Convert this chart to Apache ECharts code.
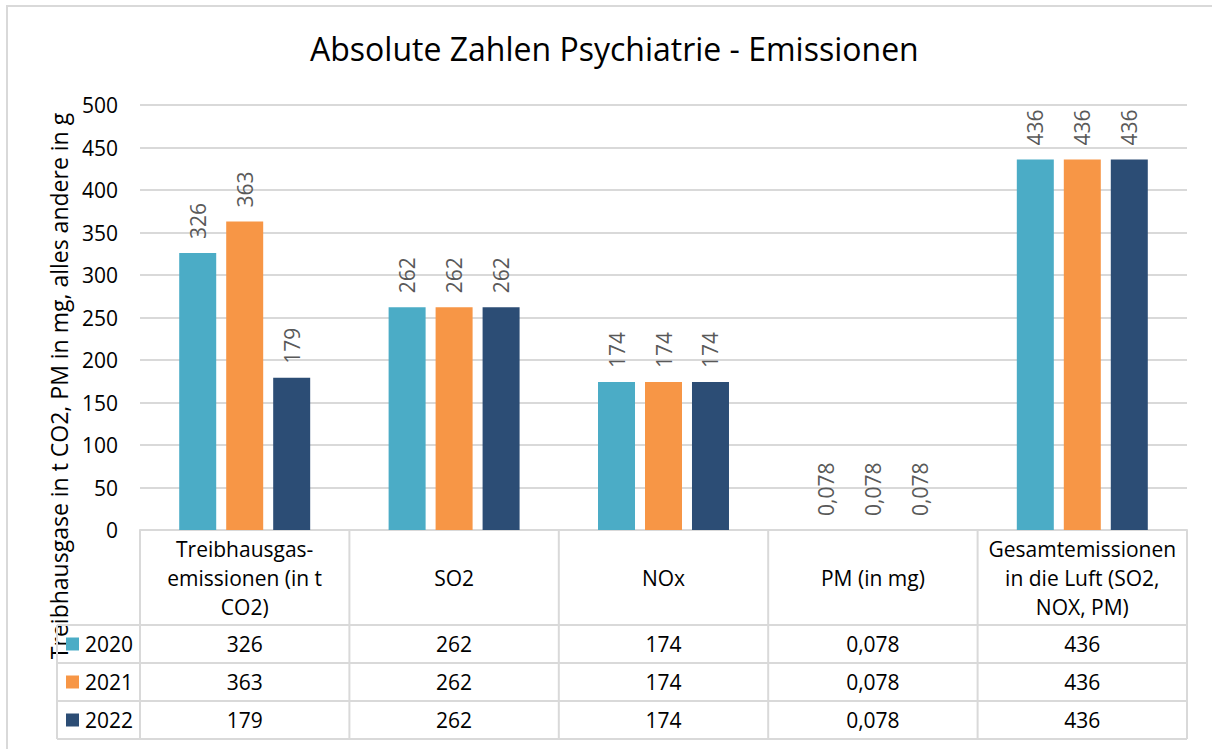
<!DOCTYPE html>
<html>
<head>
<meta charset="utf-8">
<script src="https://cdn.jsdelivr.net/npm/echarts@6/dist/echarts.min.js"></script>
<style>
html,body{margin:0;padding:0;background:#fff;}
#chart{width:1212px;height:749px;}
</style>
</head>
<body>
<div id="chart"></div>
<script>
var categories = ['Treibhausgas-\nemissionen (in t\nCO2)', 'SO2', 'NOx', 'PM (in mg)', 'Gesamtemissionen\nin die Luft (SO2,\nNOX, PM)'];
var years = ['2020', '2021', '2022'];
var values2020 = [326, 262, 174, 0.078, 436];
var values2021 = [363, 262, 174, 0.078, 436];
var values2022 = [179, 262, 174, 0.078, 436];
var yMin = 0, yMax = 500, yStep = 50;
var colors = ['#4BACC6', '#F79646', '#2C4D75'];
var fontFam = "'Open Sans', sans-serif";

function fmt(v){ return String(v).replace('.', ','); }

// layout
var gLeft = 140, gRight = 1187, gTop = 105, gBottom = 530;
var rowY = [625, 663, 701, 739];
var legendLeft = 57;
var lineColor = '#d9d9d9';

var mychart = echarts.init(document.getElementById('chart'), null, {renderer: 'svg'});

function makeSeries(name, data, idx){
	return {
		name: name,
		type: 'bar',
		data: data,
		barWidth: 37,
		barGap: '27%',
		itemStyle: {color: colors[idx]},
		label: {
			show: true,
			position: 'top',
			rotate: 90,
			align: 'left',
			verticalAlign: 'middle',
			distance: 14,
			color: '#595959',
			fontSize: 21,
			fontFamily: fontFam,
			formatter: function(p){ return fmt(p.value); }
		}
	};
}

var option = {
	animation: false,
	backgroundColor: '#fff',
	title: {
		text: 'Absolute Zahlen Psychiatrie - Emissionen',
		left: 305,
		top: 27,
		textStyle: {fontSize: 32, fontWeight: 'normal', color: '#000', fontFamily: fontFam}
	},
	grid: {left: gLeft, right: 1212 - gRight, top: gTop, bottom: 749 - gBottom, containLabel: false},
	xAxis: {
		type: 'category',
		data: categories,
		axisLine: {show: true, lineStyle: {color: lineColor, width: 2}},
		axisTick: {show: false},
		axisLabel: {
			interval: 0,
			verticalAlign: 'middle',
			margin: 48,
			lineHeight: 29,
			fontSize: 21,
			color: '#000',
			fontFamily: fontFam
		}
	},
	yAxis: {
		type: 'value',
		min: yMin,
		max: yMax,
		interval: yStep,
		axisLine: {show: false},
		axisTick: {show: false},
		splitLine: {lineStyle: {color: lineColor, width: 2}},
		axisLabel: {fontSize: 21, color: '#000', fontFamily: fontFam, margin: 22}
	},
	series: [
		makeSeries(years[0], values2020, 0),
		makeSeries(years[1], values2021, 1),
		makeSeries(years[2], values2022, 2)
	]
};
mychart.setOption(option);

// data table below the axis
var graphics = [];
graphics.push({type: 'rect', shape: {x: 7, y: 6, width: 1300, height: 800}, style: {fill: 'none', stroke: lineColor, lineWidth: 2}, z: -1});
graphics.push({
	type: 'text', x: 59, y: 386, rotation: Math.PI / 2,
	style: {text: 'Treibhausgase in t CO2, PM in mg, alles andere in g', fontSize: 23, fontFamily: fontFam, fill: '#000', align: 'center', verticalAlign: 'middle'}
});
var bounds = [];
for (var i = 0; i <= categories.length; i++) bounds.push(gLeft + (gRight - gLeft) * i / categories.length);
bounds.forEach(function(x){
	graphics.push({type: 'line', shape: {x1: x, y1: gBottom, x2: x, y2: rowY[3]}, style: {stroke: lineColor, lineWidth: 2}});
});
graphics.push({type: 'line', shape: {x1: legendLeft, y1: rowY[0], x2: legendLeft, y2: rowY[3]}, style: {stroke: lineColor, lineWidth: 2}});
rowY.forEach(function(y){
	graphics.push({type: 'line', shape: {x1: legendLeft, y1: y, x2: gRight, y2: y}, style: {stroke: lineColor, lineWidth: 2}});
});
var allValues = [values2020, values2021, values2022];
years.forEach(function(yr, r){
	var cy = (rowY[r] + rowY[r + 1]) / 2;
	graphics.push({type: 'rect', shape: {x: 66, y: cy - 6.5, width: 13, height: 13}, style: {fill: colors[r]}});
	graphics.push({type: 'text', x: 85, y: cy, style: {text: yr, fontSize: 21, fontFamily: fontFam, fill: '#000', align: 'left', verticalAlign: 'middle'}});
	allValues[r].forEach(function(v, c){
		var cx = mychart.convertToPixel({xAxisIndex: 0}, c);
		graphics.push({type: 'text', x: cx, y: cy, style: {text: fmt(v), fontSize: 21, fontFamily: fontFam, fill: '#000', align: 'center', verticalAlign: 'middle'}});
	});
});
mychart.setOption({graphic: graphics});
</script>
</body>
</html>
